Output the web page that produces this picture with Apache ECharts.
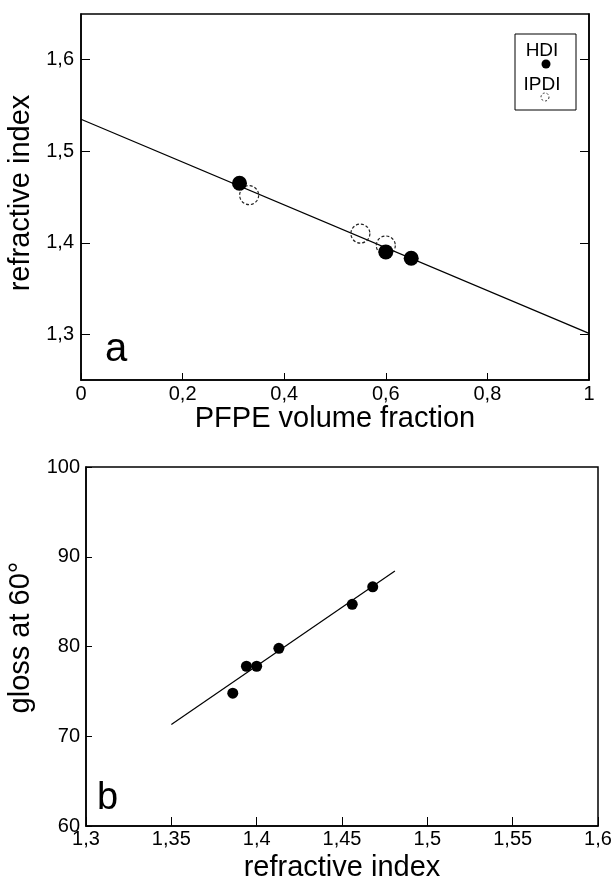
<!DOCTYPE html>
<html>
<head>
<meta charset="utf-8">
<script src="https://cdn.jsdelivr.net/npm/echarts@6/dist/echarts.min.js"></script>
<style>
html,body{margin:0;padding:0;background:#fff;}
#c{width:613px;height:885px;}
</style>
</head>
<body>
<div id="c"></div>
<script>
// ---- Panel a: refractive index vs PFPE volume fraction ----
var hdiA = [[0.312, 1.465], [0.600, 1.390], [0.650, 1.383]];
var ipdiA = [[0.331, 1.452], [0.550, 1.410], [0.600, 1.397]];
var fitA = [[0, 1.535], [1, 1.301]];
var xTicksA = [0, 0.2, 0.4, 0.6, 0.8, 1];
var xLabelsA = ['0', '0,2', '0,4', '0,6', '0,8', '1'];
var yTicksA = [1.3, 1.4, 1.5, 1.6];
var yLabelsA = ['1,3', '1,4', '1,5', '1,6'];

// ---- Panel b: gloss at 60° vs refractive index ----
var glossB = [[1.386, 74.8], [1.394, 77.8], [1.400, 77.8], [1.413, 79.8], [1.456, 84.7], [1.468, 86.65]];
var fitB = [[1.35, 71.3], [1.481, 88.4]];
var xTicksB = [1.3, 1.35, 1.4, 1.45, 1.5, 1.55, 1.6];
var xLabelsB = ['1,3', '1,35', '1,4', '1,45', '1,5', '1,55', '1,6'];
var yTicksB = [60, 70, 80, 90, 100];
var yLabelsB = ['60', '70', '80', '90', '100'];

var FONT = "'Liberation Sans', Arial, Helvetica, sans-serif";

function lookup(ticks, labels) {
  return function (v) {
    for (var i = 0; i < ticks.length; i++) {
      if (Math.abs(ticks[i] - v) < 1e-6) return labels[i];
    }
    return '';
  };
}

var chart = echarts.init(document.getElementById('c'), null, {renderer: 'canvas'});

var tickLabel = {color: '#000', fontFamily: FONT, fontSize: 20};
function nameStyle(pad) {
  return {color: '#000', fontFamily: FONT, fontSize: 29, padding: pad || 0};
}
var axisLine = {show: true, lineStyle: {color: '#000', width: 1.5}};

var option = {
  backgroundColor: '#fff',
  animation: false,
  grid: [
    {left: 81, top: 14, width: 508, height: 366, show: true, borderColor: '#000', borderWidth: 1.5, containLabel: false, outerBoundsMode: 'none'},
    {left: 86, top: 467, width: 512, height: 359, show: true, borderColor: '#000', borderWidth: 1.5, containLabel: false, outerBoundsMode: 'none'}
  ],
  xAxis: [
    {
      type: 'value', gridIndex: 0, min: 0, max: 1, interval: 0.2,
      name: 'PFPE volume fraction', nameLocation: 'middle', nameGap: 17, nameTextStyle: nameStyle(),
      axisLine: axisLine,
      axisTick: {show: true, inside: true, length: 7, lineStyle: {color: '#000', width: 1}},
      axisLabel: Object.assign({margin: 4, formatter: lookup(xTicksA, xLabelsA)}, tickLabel),
      splitLine: {show: false}
    },
    {
      type: 'value', gridIndex: 1, min: 1.3, max: 1.6, interval: 0.05,
      name: 'refractive index', nameLocation: 'middle', nameGap: 27, nameTextStyle: nameStyle(),
      axisLine: axisLine,
      axisTick: {show: true, inside: true, length: 9, lineStyle: {color: '#000', width: 1}},
      axisLabel: Object.assign({margin: 3, formatter: lookup(xTicksB, xLabelsB)}, tickLabel),
      splitLine: {show: false}
    }
  ],
  yAxis: [
    {
      type: 'value', gridIndex: 0, min: 1.25, max: 1.65,
      name: 'refractive index', nameLocation: 'middle', nameGap: 40, nameTextStyle: nameStyle([0, 0, 0, 8]),
      axisLine: axisLine,
      axisTick: {show: true, inside: true, length: 9, customValues: yTicksA, lineStyle: {color: '#000', width: 1}},
      axisLabel: Object.assign({margin: 7, customValues: yTicksA, formatter: lookup(yTicksA, yLabelsA)}, tickLabel),
      splitLine: {show: false}
    },
    {
      type: 'value', gridIndex: 0, min: 1.25, max: 1.65, position: 'right',
      axisLine: axisLine,
      axisTick: {show: true, inside: true, length: 9, customValues: yTicksA, lineStyle: {color: '#000', width: 1}},
      axisLabel: {show: false},
      splitLine: {show: false}
    },
    {
      type: 'value', gridIndex: 1, min: 60, max: 100, interval: 10,
      name: 'gloss at 60°', nameLocation: 'middle', nameGap: 47, nameTextStyle: nameStyle([0, 0, 0, 18]),
      axisLine: axisLine,
      axisTick: {show: true, inside: true, length: 6, lineStyle: {color: '#000', width: 1}},
      axisLabel: Object.assign({margin: 6, formatter: lookup(yTicksB, yLabelsB)}, tickLabel),
      splitLine: {show: false}
    }
  ],
  series: [
    {
      type: 'line', xAxisIndex: 0, yAxisIndex: 0, data: fitA, symbol: 'none', z: 1,
      lineStyle: {color: '#000', width: 1.3}
    },
    {
      name: 'IPDI', type: 'scatter', xAxisIndex: 0, yAxisIndex: 0, data: ipdiA, symbol: 'circle', symbolSize: 19, z: 2,
      itemStyle: {color: 'rgba(0,0,0,0)', borderColor: '#222', borderWidth: 1.2, borderType: [3, 2], opacity: 1}
    },
    {
      name: 'HDI', type: 'scatter', xAxisIndex: 0, yAxisIndex: 0, data: hdiA, symbol: 'circle', symbolSize: 15, z: 3,
      itemStyle: {color: '#000', opacity: 1}
    },
    {
      type: 'line', xAxisIndex: 1, yAxisIndex: 2, data: fitB, symbol: 'none', z: 1,
      lineStyle: {color: '#000', width: 1.2}
    },
    {
      type: 'scatter', xAxisIndex: 1, yAxisIndex: 2, data: glossB, symbol: 'circle', symbolSize: 11, z: 3,
      itemStyle: {color: '#000', opacity: 1}
    }
  ],
  graphic: [
    {type: 'text', left: 105, top: 330, style: {text: 'a', font: '40px ' + FONT, fill: '#000'}},
    {type: 'text', left: 97, top: 780, style: {text: 'b', font: '38px ' + FONT, fill: '#000'}},
    {type: 'rect', shape: {x: 515, y: 34, width: 61, height: 76}, style: {fill: 'none', stroke: '#000', lineWidth: 1}},
    {type: 'text', x: 542, y: 51, style: {text: 'HDI', font: '19px ' + FONT, fill: '#000', textAlign: 'center', textVerticalAlign: 'middle'}},
    {type: 'circle', shape: {cx: 546, cy: 64, r: 4.5}, style: {fill: '#000'}},
    {type: 'text', x: 542, y: 85, style: {text: 'IPDI', font: '19px ' + FONT, fill: '#000', textAlign: 'center', textVerticalAlign: 'middle'}},
    {type: 'circle', shape: {cx: 545, cy: 97, r: 4}, style: {fill: 'none', stroke: '#333', lineWidth: 1, lineDash: [2, 2]}}
  ]
};
chart.setOption(option);
</script>
</body>
</html>
